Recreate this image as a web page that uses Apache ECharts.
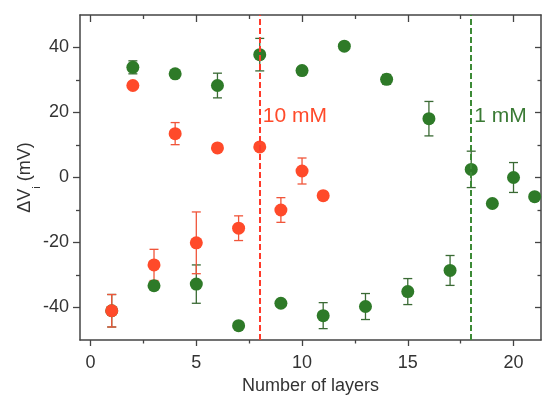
<!DOCTYPE html>
<html>
<head>
<meta charset="utf-8">
<script src="https://cdn.jsdelivr.net/npm/echarts@6/dist/echarts.min.js"></script>
<style>html,body{margin:0;padding:0;background:#fff}#c{width:542px;height:395px}</style>
</head>
<body>
<div id="c"></div>
<script>
// ---- data ----
const greenX   = [1, 2, 3, 4, 5, 6, 7, 8, 9, 10, 11, 12, 13, 14, 15, 16, 17, 18, 19, 20, 21];
const greenY   = [-41, 33.9, -33.3, 31.9, -32.8, 28.3, -45.6, 37.8, -38.7, 32.9, -42.5, 40.4, -39.7, 30.2, -35.1, 18.1, -28.6, 2.5, -8.0, 0, -5.9];
const greenErr = [5, 2, 1, 0.8, 5.9, 3.8, 0.8, 5, 0.8, 0.8, 4, 0.8, 4, 1.5, 4, 5.3, 4.6, 5.6, 0.8, 4.6, 0.8];
const redX     = [1, 2, 3, 4, 5, 6, 7, 8, 9, 10, 11];
const redY     = [-41, 28.3, -26.9, 13.5, -20.1, 9.1, -15.6, 9.4, -10, 2.0, -5.6];
const redErr   = [5, 0.5, 4.8, 3.4, 9.5, 0.5, 3.8, 0.5, 3.8, 4, 0.5];
const xMajorTicks = [0, 5, 10, 15, 20];
const xMinorTicks = [2.5, 7.5, 12.5, 17.5];
const yMajorTicks = [-40, -20, 0, 20, 40];
const yMinorTicks = [-30, -10, 10, 30];
const redLineX = 8, greenLineX = 18;
const redLabel = '10 mM', greenLabel = '1 mM';
const labelY = 19;

const GREEN = '#2e7a28', RED = '#ff4a2a';
const GREEN_ERR = '#3a6a34', RED_ERR = '#f0553a';
const AX = '#444';
const FONT = 'Liberation Sans, Arial, sans-serif';

function pairs(xs, ys) { return xs.map((x, i) => [x, ys[i]]); }
function errData(xs, ys, es) { return xs.map((x, i) => [x, ys[i] - es[i], ys[i] + es[i]]); }
function errSeries(data, color) {
  return {
    type: 'custom', xAxisIndex: 0, yAxisIndex: 0, z: 2,
    data: data,
    renderItem: function (params, api) {
      const x = api.value(0);
      const lo = api.coord([x, api.value(1)]);
      const hi = api.coord([x, api.value(2)]);
      const w = 4.5;
      const st = { stroke: color, lineWidth: 1.3 };
      return { type: 'group', children: [
        { type: 'line', shape: { x1: lo[0], y1: lo[1], x2: hi[0], y2: hi[1] }, style: st },
        { type: 'line', shape: { x1: lo[0] - w, y1: lo[1], x2: lo[0] + w, y2: lo[1] }, style: st },
        { type: 'line', shape: { x1: hi[0] - w, y1: hi[1], x2: hi[0] + w, y2: hi[1] }, style: st }
      ]};
    },
    encode: { x: 0, y: [1, 2] },
    silent: true
  };
}

function xAx(pos, ticks, len, inside, showLine, showLabel, name) {
  return {
    type: 'value', min: -0.5, max: 21.3, position: pos,
    axisLine: { show: showLine, onZero: false, lineStyle: { color: AX, width: 1.5 } },
    axisTick: { show: true, customValues: ticks, length: len, inside: inside, lineStyle: { color: AX, width: 1.3 } },
    axisLabel: { show: showLabel, customValues: ticks, fontSize: 18, color: '#333', fontFamily: FONT, margin: 14 },
    splitLine: { show: false },
    name: name || '', nameLocation: 'middle', nameGap: 35,
    nameTextStyle: { fontSize: 18, color: '#333', fontFamily: FONT }
  };
}
function yAx(pos, ticks, len, inside, showLine, showLabel, withName) {
  const a = {
    type: 'value', min: -50, max: 50, position: pos,
    axisLine: { show: showLine, onZero: false, lineStyle: { color: AX, width: 1.5 } },
    axisTick: { show: true, customValues: ticks, length: len, inside: inside, lineStyle: { color: AX, width: 1.3 } },
    axisLabel: { show: showLabel, customValues: ticks, fontSize: 18, color: '#333', fontFamily: FONT, margin: 11 },
    splitLine: { show: false }
  };
  if (withName) {
    a.name = '{a|ΔV}{s|i}{a| (mV)}';
    a.nameLocation = 'middle';
    a.nameGap = 44;
    a.nameMoveOverlap = false;
    a.nameTextStyle = {
      color: '#333', fontFamily: FONT, fontSize: 18,
      rich: {
        a: { fontSize: 18, color: '#333', fontFamily: FONT, lineHeight: 22, verticalAlign: 'middle' },
        s: { fontSize: 11, color: '#333', fontFamily: FONT, lineHeight: 22, verticalAlign: 'bottom', padding: [0, 0, -6, 0] }
      }
    };
  }
  return a;
}

const chart = echarts.init(document.getElementById('c'), null, { renderer: 'canvas' });
chart.setOption({
  backgroundColor: '#fff',
  animation: false,
  grid: { left: 80, right: 1, top: 15, bottom: 55, outerBoundsMode: 'none' },
  xAxis: [
    xAx('bottom', xMajorTicks, 6, false, true, true, 'Number of layers'),
    xAx('bottom', xMinorTicks, 3.5, false, false, false),
    xAx('top', xMajorTicks, 7, true, true, false),
    xAx('top', xMinorTicks, 4, true, false, false)
  ],
  yAxis: [
    yAx('left', yMajorTicks, 7, false, true, true, true),
    yAx('left', yMinorTicks, 4, false, false, false),
    yAx('right', yMajorTicks, 6, true, true, false),
    yAx('right', yMinorTicks, 3.5, true, false, false)
  ],
  series: [
    errSeries(errData(greenX, greenY, greenErr), GREEN_ERR),
    {
      type: 'scatter', xAxisIndex: 0, yAxisIndex: 0, z: 3,
      data: pairs(greenX, greenY), symbolSize: 13,
      itemStyle: { color: GREEN, opacity: 1 },
      markLine: {
        silent: true, symbol: 'none', z: 10,
        lineStyle: { color: '#3c8a36', type: [6, 3], width: 2 },
        label: { show: false },
        data: [{ xAxis: greenLineX }]
      },
      markPoint: {
        symbol: 'circle', symbolSize: 0, silent: true,
        data: [{ coord: [greenLineX, labelY], value: greenLabel }],
        label: { show: true, position: 'right', distance: 3, formatter: greenLabel, color: '#3a7a34', fontSize: 21, fontFamily: FONT }
      }
    },
    errSeries(errData(redX, redY, redErr), RED_ERR),
    {
      type: 'scatter', xAxisIndex: 0, yAxisIndex: 0, z: 4,
      data: pairs(redX, redY), symbolSize: 13,
      itemStyle: { color: RED, opacity: 1 },
      markLine: {
        silent: true, symbol: 'none', z: 10,
        lineStyle: { color: '#ff3a2a', type: [6, 3], width: 2 },
        label: { show: false },
        data: [{ xAxis: redLineX }]
      },
      markPoint: {
        symbol: 'circle', symbolSize: 0, silent: true,
        data: [{ coord: [redLineX, labelY], value: redLabel }],
        label: { show: true, position: 'right', distance: 3, formatter: redLabel, color: '#ff4a2a', fontSize: 21, fontFamily: FONT }
      }
    }
  ]
});
</script>
</body>
</html>
